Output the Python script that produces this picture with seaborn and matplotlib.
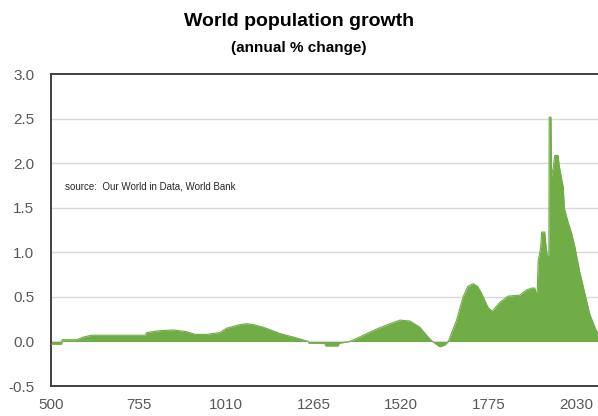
import numpy as np
import pandas as pd
import matplotlib
matplotlib.use('Agg')
import matplotlib.pyplot as plt
import seaborn as sns

# world population growth, annual % change
years = [500, 531, 532, 575, 594, 618, 774, 779, 813, 856, 895, 920, 954, 992,
         1012, 1051, 1070, 1089, 1119, 1167, 1216, 1250, 1252, 1298, 1300, 1337,
         1340, 1371, 1410, 1449, 1488, 1517, 1546, 1575, 1599, 1612, 1633, 1648,
         1658, 1682, 1701, 1715, 1730, 1743, 1755, 1774, 1786, 1808, 1832, 1866,
         1886, 1901, 1910, 1913, 1917, 1920, 1927, 1930, 1939, 1942, 1946, 1951,
         1952, 1957, 1959, 1964, 1968, 1978, 1981, 1988, 1993, 1996, 1998, 2007,
         2017, 2027, 2041, 2056, 2070, 2085, 2094, 2100]
growth = [-0.03, -0.03, 0.02, 0.02, 0.05, 0.07, 0.07, 0.10, 0.12, 0.13, 0.11, 0.08,
          0.08, 0.10, 0.15, 0.19, 0.20, 0.19, 0.16, 0.09, 0.04, 0.0, -0.02, -0.02,
          -0.05, -0.05, -0.02, 0.0, 0.07, 0.14, 0.20, 0.24, 0.23, 0.16, 0.05, 0.0,
          -0.06, -0.04, 0.0, 0.24, 0.50, 0.62, 0.65, 0.62, 0.54, 0.38, 0.34, 0.44,
          0.51, 0.52, 0.58, 0.60, 0.60, 0.55, 0.56, 0.91, 1.05, 1.23, 1.23, 1.10,
          0.97, 0.97, 2.52, 2.52, 1.85, 1.96, 2.09, 2.09, 1.98, 1.83, 1.73, 1.50,
          1.47, 1.34, 1.22, 1.06, 0.78, 0.54, 0.31, 0.16, 0.09, 0.05]

x_ticks = [500, 755, 1010, 1265, 1520, 1775, 2030]
y_ticks = [-0.5, 0.0, 0.5, 1.0, 1.5, 2.0, 2.5, 3.0]

df = pd.DataFrame({'year': years, 'growth': growth})

sns.set_theme(style='white')
plt.rcParams['font.family'] = ['Liberation Sans', 'DejaVu Sans']

green = '#70AD47'
fig = plt.figure(figsize=(5.98, 4.16), dpi=100)
ax = fig.add_axes([0.0853, 0.0721, 0.918, 0.749])

ax.fill_between(df['year'], df['growth'], 0, color=green, lw=0, zorder=2)
sns.lineplot(data=df, x='year', y='growth', color=green, lw=0.8, ax=ax, zorder=3)

ax.set_xlim(500, 2100)
ax.set_ylim(-0.5, 3.0)
ax.set_xticks(x_ticks)
ax.set_yticks(y_ticks)
ax.set_yticklabels([f'{v:.1f}' for v in y_ticks])
ax.tick_params(axis='both', length=0, labelsize=11, colors='#595959')
ax.tick_params(axis='y', pad=12)
ax.tick_params(axis='x', pad=8.5)
ax.set_xlabel('')
ax.set_ylabel('')

for v in y_ticks[1:-1]:
    ax.axhline(v, color='#d9d9d9', lw=1, zorder=1)

for s in ['left', 'bottom', 'top']:
    ax.spines[s].set_color('#404040')
    ax.spines[s].set_linewidth(1.4)
ax.spines['right'].set_visible(False)

ax.text(0.026, 0.63, 'source:  Our World in Data, World Bank', transform=ax.transAxes,
        fontsize=7, color='#262626')

fig.text(0.5, 0.948, 'World population growth', ha='center', va='center',
         fontsize=14, fontweight='bold', color='black')
fig.text(0.5, 0.885, '(annual % change)', ha='center', va='center',
         fontsize=11, fontweight='bold', color='black')

fig.savefig('out.png', dpi=100)
